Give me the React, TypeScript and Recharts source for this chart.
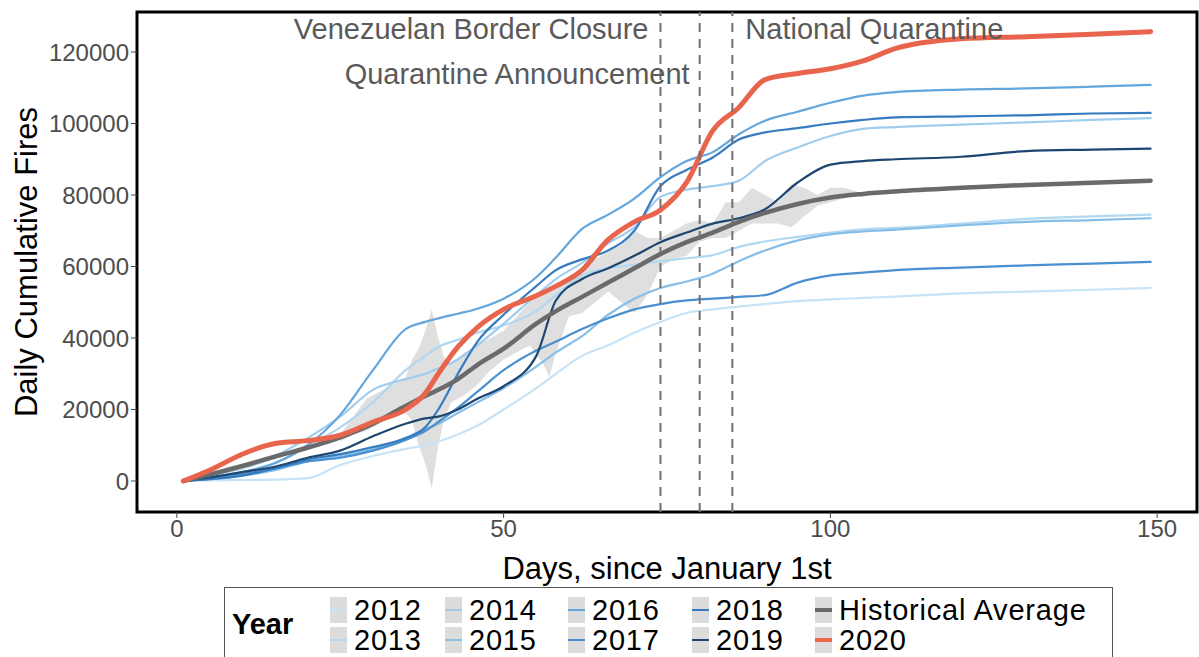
import React from "react";
import {
  ComposedChart,
  Line,
  Area,
  XAxis,
  YAxis,
  ReferenceLine,
  ReferenceArea,
} from "recharts";

// sample days (day of year) shared by all yearly series
const DAYS = [1, 5, 10, 15, 20, 25, 30, 35, 38, 40, 43, 46, 50, 55, 58, 62, 66, 70, 74, 78, 82, 86, 90, 95, 100, 105, 110, 120, 130, 140, 149];

const Y2012 = [0, 200, 300, 400, 800, 4500, 7000, 9000, 10000, 11000, 13000, 15500, 20000, 26000, 30000, 35000, 38000, 41500, 44500, 47000, 48000, 48800, 49500, 50300, 50800, 51200, 51600, 52500, 53000, 53500, 54000];
const Y2013 = [0, 1500, 3500, 6500, 10000, 15000, 22000, 31000, 35000, 37500, 39500, 41500, 43500, 47500, 52000, 57500, 59500, 60500, 61500, 62300, 63200, 65500, 67000, 68300, 69500, 70400, 70800, 72000, 73300, 74000, 74500];
const Y2014 = [0, 1500, 4000, 7000, 12000, 18000, 25500, 28500, 30000, 31500, 34000, 38000, 44000, 52000, 56500, 61000, 66500, 71000, 79500, 81500, 82500, 84000, 89500, 93300, 96500, 98500, 99000, 99700, 100300, 101000, 101500];
const Y2015 = [0, 500, 1500, 3000, 5500, 7000, 9000, 12000, 14500, 16000, 19000, 22000, 26000, 32000, 36000, 40500, 46500, 51000, 54000, 55800, 58000, 61500, 64500, 67300, 69000, 69800, 70300, 71500, 72500, 73000, 73500];
const Y2016 = [0, 800, 2500, 5000, 10000, 18500, 31000, 42500, 44500, 45500, 46800, 48200, 51000, 57000, 62500, 70500, 74500, 79000, 85000, 89500, 92000, 97000, 100800, 103300, 105800, 107800, 108800, 109500, 109800, 110300, 110800];
const Y2017 = [0, 800, 2000, 3500, 5500, 6500, 8500, 11500, 14000, 16500, 20500, 25000, 31000, 36500, 39000, 42500, 45500, 48000, 49500, 50500, 51000, 51500, 52000, 55500, 57500, 58300, 59000, 59700, 60300, 60800, 61300];
const Y2018 = [0, 500, 1500, 3500, 6000, 7500, 9500, 12000, 15000, 20000, 30000, 39000, 46500, 54500, 59000, 62000, 64500, 70000, 82500, 87000, 90500, 95500, 97500, 98700, 100000, 101000, 101700, 102000, 102300, 102800, 103000];
const Y2019 = [0, 1000, 2500, 4000, 6500, 8500, 12500, 16000, 17500, 18000, 20000, 23000, 26500, 35000, 50500, 56500, 59500, 63000, 66800, 69500, 72000, 73500, 76000, 83500, 88500, 89500, 90000, 90700, 92300, 92700, 93000];
const AVG = [0, 1800, 4200, 6800, 9300, 12200, 16000, 21000, 23800, 25500, 28500, 32500, 37000, 44000, 47500, 51500, 55500, 59500, 63500, 66800, 69500, 72500, 75000, 77500, 79300, 80300, 81000, 82000, 82800, 83400, 84000];
const Y2020 = [0, 3000, 7500, 10500, 11300, 12800, 16500, 20000, 24500, 30000, 37500, 43000, 48000, 51800, 54500, 59000, 67500, 72500, 75800, 83500, 98000, 104500, 112300, 114000, 115300, 117500, 121000, 123700, 124300, 125000, 125700];

// grey band around the historical average
const RIBBON_DAYS = [25, 27, 29, 31, 33, 35, 36, 37, 38, 39, 40, 41, 42, 44, 46, 48, 50, 52, 54, 56, 57, 58, 60, 62, 64, 66, 68, 70, 72, 74, 76, 78, 80, 82, 84, 86, 88, 90, 92, 94, 96, 98, 100, 102, 104];
const RIBBON_LOW = [11000, 13000, 14000, 16000, 18000, 19000, 17000, 10000, 5000, -2000, 10000, 18000, 22000, 24000, 27000, 31000, 34000, 36000, 38000, 33000, 29000, 36000, 46000, 47000, 50000, 53000, 50000, 47000, 52000, 60000, 62000, 63000, 67000, 68000, 68000, 70000, 72000, 72000, 72000, 71000, 74000, 77000, 78000, 79000, 80000];
const RIBBON_HIGH = [13000, 18000, 23000, 25000, 27000, 29000, 34000, 37000, 42000, 48000, 40000, 34000, 33000, 36000, 38000, 40000, 42000, 46000, 50000, 52000, 53000, 54000, 56000, 58000, 62000, 64000, 66000, 70000, 68000, 68000, 70000, 72000, 73000, 72000, 78000, 78000, 82000, 80000, 78000, 83000, 82000, 80000, 82000, 82000, 81000];

const EVENT_DAYS = [74, 80, 85];
const EVENT_LABELS = ["Venezuelan Border Closure", "Quarantine Announcement", "National Quarantine"];

const X_TICKS = [0, 50, 100, 150];
const Y_TICKS = [0, 20000, 40000, 60000, 80000, 100000, 120000];

const SERIES = [
  { key: "y2012", name: "2012", values: Y2012, color: "#c8e3f5", width: 2.2 },
  { key: "y2013", name: "2013", values: Y2013, color: "#b2d7f1", width: 2.2 },
  { key: "y2014", name: "2014", values: Y2014, color: "#a0cdee", width: 2.2 },
  { key: "y2015", name: "2015", values: Y2015, color: "#86bee8", width: 2.2 },
  { key: "y2016", name: "2016", values: Y2016, color: "#63a6dc", width: 2.2 },
  { key: "y2017", name: "2017", values: Y2017, color: "#4a8fd0", width: 2.2 },
  { key: "y2018", name: "2018", values: Y2018, color: "#367bbf", width: 2.2 },
  { key: "y2019", name: "2019", values: Y2019, color: "#1d4670", width: 2.2 },
  { key: "avg", name: "Historical Average", values: AVG, color: "#6a6a6a", width: 4.5 },
  { key: "y2020", name: "2020", values: Y2020, color: "#e8644c", width: 5 },
];

const FONT = "'Liberation Sans', Arial, Helvetica, sans-serif";
const X_DOMAIN = [-6.1, 156.1];
const Y_DOMAIN = [-8670, 131190];

const rows = DAYS.map((day, i) => {
  const row: Record<string, number> = { day };
  SERIES.forEach((s) => {
    row[s.key] = s.values[i];
  });
  return row;
});

const ribbonRows = RIBBON_DAYS.map((day, i) => ({
  day,
  band: [RIBBON_LOW[i], RIBBON_HIGH[i]],
}));

// label placement next to each dashed line: [dx, baseline dy, anchor]
const LABEL_PLACE: [number, number, "start" | "end"][] = [
  [-12, 27, "end"],
  [-10, 72, "end"],
  [13, 27, "start"],
];

function eventLabel(i: number) {
  return (props: any) => {
    const vb = props.viewBox || {};
    const [dx, dy, anchor] = LABEL_PLACE[i];
    return (
      <text
        x={vb.x + dx}
        y={vb.y + dy}
        textAnchor={anchor}
        fill="#5a5a5a"
        fontSize={29}
        fontFamily={FONT}
      >
        {EVENT_LABELS[i]}
      </text>
    );
  };
}

const yTitle = (props: any) => {
  const vb = props.viewBox || {};
  const cx = vb.x + 37;
  const cy = vb.y + vb.height / 2;
  return (
    <text
      x={cx}
      y={cy}
      transform={`rotate(-90, ${cx}, ${cy})`}
      textAnchor="middle"
      fontSize={31}
      fill="#000"
      fontFamily={FONT}
    >
      Daily Cumulative Fires
    </text>
  );
};

const xTitle = (props: any) => {
  const vb = props.viewBox || {};
  return (
    <text
      x={vb.x + vb.width / 2}
      y={vb.y + 67}
      textAnchor="middle"
      fontSize={31}
      fill="#000"
      fontFamily={FONT}
    >
      Days, since January 1st
    </text>
  );
};

// legend columns: 2 rows, filled column by column
const LEGEND_ORDER = ["y2012", "y2013", "y2014", "y2015", "y2016", "y2017", "y2018", "y2019", "avg", "y2020"];
const LEGEND_COL_X = [105, 220, 343, 467, 590];
const LEGEND_ROW_Y = [22, 52];

function YearLegend() {
  return (
    <div
      style={{
        position: "absolute",
        left: 224,
        top: 587,
        width: 889,
        height: 90,
        border: "1.5px solid #555",
        boxSizing: "border-box",
        background: "#fff",
        fontFamily: FONT,
      }}
    >
      <div
        style={{
          position: "absolute",
          left: 7,
          top: 22,
          fontSize: 29,
          lineHeight: "29px",
          fontWeight: "bold",
        }}
      >
        Year
      </div>
      {LEGEND_ORDER.map((key, i) => {
        const s = SERIES.find((d) => d.key === key)!;
        const col = Math.floor(i / 2);
        const row = i % 2;
        const left = LEGEND_COL_X[col];
        const cy = LEGEND_ROW_Y[row];
        return (
          <React.Fragment key={key}>
            <div
              style={{
                position: "absolute",
                left,
                top: cy - 13,
                width: 17,
                height: 26,
                background: "#dcdcdc",
              }}
            >
              <div
                style={{
                  position: "absolute",
                  left: 0,
                  top: 13 - (s.width > 3 ? 2 : 1),
                  width: 17,
                  height: s.width > 3 ? 4 : 2,
                  background: s.color,
                }}
              />
            </div>
            <div
              style={{
                position: "absolute",
                left: left + 24,
                top: cy - 14,
                fontSize: 29,
                lineHeight: "28px",
                letterSpacing: 0.8,
                whiteSpace: "nowrap",
              }}
            >
              {s.name}
            </div>
          </React.Fragment>
        );
      })}
    </div>
  );
}

export default function App() {
  return (
    <div
      style={{
        position: "absolute",
        left: 0,
        top: 0,
        width: 1199,
        height: 657,
        overflow: "hidden",
        background: "#fff",
        fontFamily: FONT,
      }}
    >
      <ComposedChart
        width={1199}
        height={657}
        data={rows}
        margin={{ top: 12, right: 2, left: 0, bottom: 85 }}
      >
        <XAxis
          dataKey="day"
          type="number"
          domain={X_DOMAIN}
          ticks={X_TICKS}
          allowDataOverflow
          axisLine={false}
          tickSize={6}
          tickLine={{ stroke: "#444" }}
          tick={{ fill: "#4d4d4d", fontSize: 24 }}
          height={60}
          label={xTitle}
        />
        <YAxis
          type="number"
          domain={Y_DOMAIN}
          ticks={Y_TICKS}
          allowDataOverflow
          axisLine={false}
          tickSize={6}
          tickLine={{ stroke: "#444" }}
          tick={{ fill: "#4d4d4d", fontSize: 24 }}
          width={137}
          label={yTitle}
        />
        <Area
          data={ribbonRows}
          dataKey="band"
          type="linear"
          stroke="none"
          fill="#d9d9d9"
          fillOpacity={0.85}
          isAnimationActive={false}
          connectNulls
        />
        {SERIES.map((s) => (
          <Line
            key={s.key}
            dataKey={s.key}
            name={s.name}
            type="monotoneX"
            stroke={s.color}
            strokeWidth={s.width}
            dot={false}
            strokeLinejoin="round"
            strokeLinecap="round"
            isAnimationActive={false}
          />
        ))}
        {EVENT_DAYS.map((d, i) => (
          <ReferenceLine
            key={d}
            x={d}
            stroke="#707070"
            strokeWidth={2}
            strokeDasharray="9 7"
            label={eventLabel(i)}
          />
        ))}
        <ReferenceArea
          x1={X_DOMAIN[0]}
          x2={X_DOMAIN[1]}
          y1={Y_DOMAIN[0]}
          y2={Y_DOMAIN[1]}
          fill="none"
          stroke="#000"
          strokeWidth={3}
          ifOverflow="visible"
        />
      </ComposedChart>
      <YearLegend />
    </div>
  );
}
